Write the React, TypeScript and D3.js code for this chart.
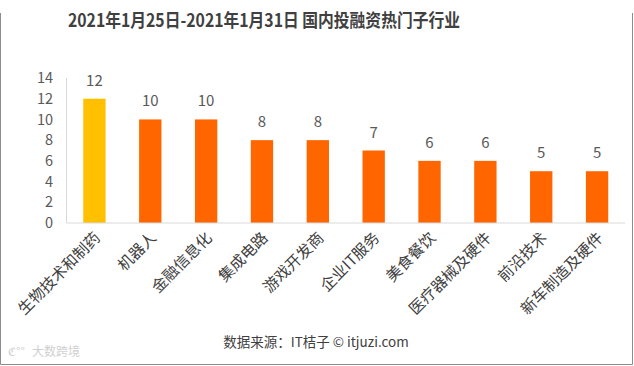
import { scaleBand, scaleLinear } from 'd3';
import React from 'react';

const WIDTH = 634;
const HEIGHT = 366;
const MARGIN_LEFT = 66.5;
const MARGIN_RIGHT = 9;
const Y_TOP = 78;
const Y_BOTTOM = 223;

const categories = [
  '生物技术和制药',
  '机器人',
  '金融信息化',
  '集成电路',
  '游戏开发商',
  '企业IT服务',
  '美食餐饮',
  '医疗器械及硬件',
  '前沿技术',
  '新车制造及硬件',
];
const counts = [12, 10, 10, 8, 8, 7, 6, 6, 5, 5];
const yTicks = [0, 2, 4, 6, 8, 10, 12, 14];

const FONT = '"Noto Sans CJK SC", "Noto Sans", sans-serif';

const App = (): JSX.Element => {
  const x = scaleBand<string>()
    .domain(categories)
    .range([MARGIN_LEFT, WIDTH - MARGIN_RIGHT])
    .paddingInner(0.6)
    .paddingOuter(0.3);
  const y = scaleLinear().domain([0, 14]).range([Y_BOTTOM, Y_TOP]);

  return (
    <svg
      width={WIDTH}
      height={HEIGHT}
      style={{ position: 'absolute', left: 0, top: 0, background: '#fff' }}
      fontFamily={FONT}
    >
      <rect x={0} y={0} width={WIDTH} height={HEIGHT} fill="#fff" />
      {/* outer frame */}
      <path
        d={`M0.5,13V${HEIGHT - 1.5}H${WIDTH - 1.5}V13`}
        fill="none"
        stroke="#8c8c8c"
        strokeWidth={1}
      />

      <text
        x={68}
        y={27}
        fontSize={18}
        fontWeight="bold"
        fill="#404040"
        textLength={392}
        lengthAdjust="spacingAndGlyphs"
      >
        2021年1月25日-2021年1月31日 国内投融资热门子行业
      </text>

      {/* y axis */}
      <line x1={MARGIN_LEFT} x2={MARGIN_LEFT} y1={Y_TOP} y2={Y_BOTTOM} stroke="#d9d9d9" />
      {yTicks.map((t) => (
        <text
          key={t}
          x={53}
          y={y(t)}
          dy="0.35em"
          textAnchor="end"
          fontSize={14.5}
          fill="#595959"
        >
          {t}
        </text>
      ))}

      {/* bars */}
      {categories.map((c, i) => (
        <rect
          key={c}
          x={x(c)}
          y={y(counts[i])}
          width={x.bandwidth()}
          height={y(0) - y(counts[i])}
          fill={i === 0 ? '#ffc000' : '#ff6600'}
        />
      ))}
      {categories.map((c, i) => (
        <text
          key={c}
          x={(x(c) ?? 0) + x.bandwidth() / 2}
          y={y(counts[i]) - 13}
          textAnchor="middle"
          fontSize={15}
          fill="#595959"
        >
          {counts[i]}
        </text>
      ))}

      {/* baseline */}
      <line x1={MARGIN_LEFT} x2={WIDTH - MARGIN_RIGHT} y1={Y_BOTTOM} y2={Y_BOTTOM} stroke="#d9d9d9" />

      {/* category labels */}
      {categories.map((c) => {
        const cx = (x(c) ?? 0) + x.bandwidth() / 2 + 3;
        const cy = Y_BOTTOM + 12;
        return (
          <text
            key={c}
            transform={`translate(${cx},${cy}) rotate(-45)`}
            textAnchor="end"
            fontSize={15.5}
            fill="#404040"
            dy="0.35em"
          >
            {c}
          </text>
        );
      })}

      <text x={316} y={347} textAnchor="middle" fontSize={13.5} fill="#404040">
        数据来源：IT桔子 © itjuzi.com
      </text>

      {/* watermarks */}
      <text x={32} y={356} fontSize={12} fill="#d0d0d0">
        大数跨境
      </text>
      <text x={8} y={356} fontSize={12} fill="#d0d0d0">
        ℭ°°
      </text>
    </svg>
  );
};

export default App;
